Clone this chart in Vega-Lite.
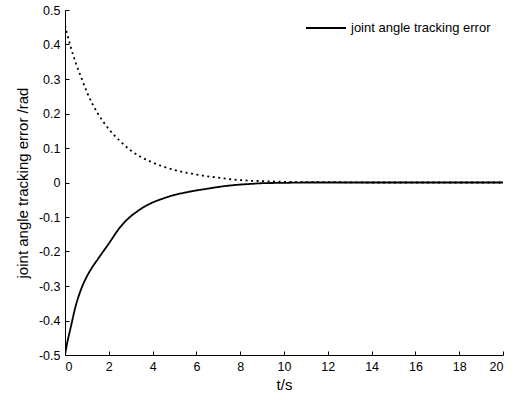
{
  "$schema": "https://vega.github.io/schema/vega-lite/v6.json",
  "width": 438,
  "height": 345,
  "autosize": "none",
  "padding": {"left": 65, "top": 10, "right": 12, "bottom": 45},
  "background": "white",
  "config": {
    "view": {"stroke": null},
    "font": "Liberation Sans",
    "axis": {"grid": false, "labelFont": "Liberation Sans", "titleFont": "Liberation Sans", "labelColor": "#000", "titleColor": "#000", "domainColor": "#000", "tickColor": "#000", "titleFontWeight": "normal", "labelFontSize": 12.5, "titleFontSize": 15}
  },
  "datasets": {
    "curves": [
      {"t": 0, "e": 0.455, "s": "reference"},
      {"t": 0.25, "e": 0.395, "s": "reference"},
      {"t": 0.5, "e": 0.345, "s": "reference"},
      {"t": 0.75, "e": 0.303, "s": "reference"},
      {"t": 1, "e": 0.262, "s": "reference"},
      {"t": 1.5, "e": 0.2, "s": "reference"},
      {"t": 2, "e": 0.155, "s": "reference"},
      {"t": 2.5, "e": 0.121, "s": "reference"},
      {"t": 3, "e": 0.093, "s": "reference"},
      {"t": 3.5, "e": 0.073, "s": "reference"},
      {"t": 4, "e": 0.058, "s": "reference"},
      {"t": 4.5, "e": 0.046, "s": "reference"},
      {"t": 5, "e": 0.036, "s": "reference"},
      {"t": 5.5, "e": 0.029, "s": "reference"},
      {"t": 6, "e": 0.023, "s": "reference"},
      {"t": 6.5, "e": 0.018, "s": "reference"},
      {"t": 7, "e": 0.014, "s": "reference"},
      {"t": 7.5, "e": 0.01, "s": "reference"},
      {"t": 8, "e": 0.007, "s": "reference"},
      {"t": 8.5, "e": 0.005, "s": "reference"},
      {"t": 9, "e": 0.004, "s": "reference"},
      {"t": 9.5, "e": 0.003, "s": "reference"},
      {"t": 10, "e": 0.002, "s": "reference"},
      {"t": 11, "e": 0.001, "s": "reference"},
      {"t": 12, "e": 0.001, "s": "reference"},
      {"t": 13, "e": 0.0005, "s": "reference"},
      {"t": 14, "e": 0, "s": "reference"},
      {"t": 16, "e": 0, "s": "reference"},
      {"t": 18, "e": 0, "s": "reference"},
      {"t": 20, "e": 0, "s": "reference"},
      {"t": 0, "e": -0.5, "s": "joint angle tracking error"},
      {"t": 0.1, "e": -0.465, "s": "joint angle tracking error"},
      {"t": 0.25, "e": -0.423, "s": "joint angle tracking error"},
      {"t": 0.5, "e": -0.355, "s": "joint angle tracking error"},
      {"t": 0.75, "e": -0.307, "s": "joint angle tracking error"},
      {"t": 1, "e": -0.272, "s": "joint angle tracking error"},
      {"t": 1.25, "e": -0.245, "s": "joint angle tracking error"},
      {"t": 1.5, "e": -0.222, "s": "joint angle tracking error"},
      {"t": 2, "e": -0.177, "s": "joint angle tracking error"},
      {"t": 2.5, "e": -0.131, "s": "joint angle tracking error"},
      {"t": 2.75, "e": -0.113, "s": "joint angle tracking error"},
      {"t": 3, "e": -0.098, "s": "joint angle tracking error"},
      {"t": 3.25, "e": -0.086, "s": "joint angle tracking error"},
      {"t": 3.5, "e": -0.075, "s": "joint angle tracking error"},
      {"t": 4, "e": -0.058, "s": "joint angle tracking error"},
      {"t": 4.5, "e": -0.046, "s": "joint angle tracking error"},
      {"t": 5, "e": -0.036, "s": "joint angle tracking error"},
      {"t": 5.5, "e": -0.029, "s": "joint angle tracking error"},
      {"t": 6, "e": -0.023, "s": "joint angle tracking error"},
      {"t": 6.5, "e": -0.018, "s": "joint angle tracking error"},
      {"t": 7, "e": -0.013, "s": "joint angle tracking error"},
      {"t": 7.5, "e": -0.009, "s": "joint angle tracking error"},
      {"t": 8, "e": -0.006, "s": "joint angle tracking error"},
      {"t": 8.5, "e": -0.004, "s": "joint angle tracking error"},
      {"t": 9, "e": -0.002, "s": "joint angle tracking error"},
      {"t": 10, "e": -0.001, "s": "joint angle tracking error"},
      {"t": 11, "e": 0, "s": "joint angle tracking error"},
      {"t": 14, "e": 0, "s": "joint angle tracking error"},
      {"t": 17, "e": 0, "s": "joint angle tracking error"},
      {"t": 20, "e": 0, "s": "joint angle tracking error"}
    ]
  },
  "data": {"name": "curves"},
  "mark": {"type": "line", "color": "#000", "strokeWidth": 1.8, "clip": true, "interpolate": "monotone"},
  "encoding": {
    "x": {
      "field": "t", "type": "quantitative",
      "scale": {"domain": [0, 20], "nice": false, "zero": false},
      "axis": {"title": "t/s", "values": [0, 2, 4, 6, 8, 10, 12, 14, 16, 18, 20], "tickSize": -4, "labelPadding": 9, "titlePadding": 5, "domainWidth": 1}
    },
    "y": {
      "field": "e", "type": "quantitative",
      "scale": {"domain": [-0.5, 0.5], "nice": false, "zero": false},
      "axis": {"title": "joint angle tracking error /rad", "values": [-0.5, -0.4, -0.3, -0.2, -0.1, 0, 0.1, 0.2, 0.3, 0.4, 0.5], "labelExpr": "replace(format(datum.value, '.1~f'), '−', '-')", "tickSize": -4, "labelPadding": 9, "titlePadding": 8, "domainWidth": 1}
    },
    "strokeDash": {
      "field": "s", "type": "nominal",
      "scale": {"domain": ["joint angle tracking error", "reference"], "range": [[1, 0], [2, 3.5]]},
      "legend": {
        "values": ["joint angle tracking error"],
        "title": null,
        "orient": "none",
        "legendX": 240,
        "legendY": -3,
        "symbolType": "stroke",
        "symbolSize": 1600,
        "symbolStrokeWidth": 2,
        "symbolStrokeColor": "#000",
        "labelFontSize": 13,
        "labelFont": "Liberation Sans",
        "labelColor": "#000",
        "labelOffset": 4
      }
    }
  }
}
